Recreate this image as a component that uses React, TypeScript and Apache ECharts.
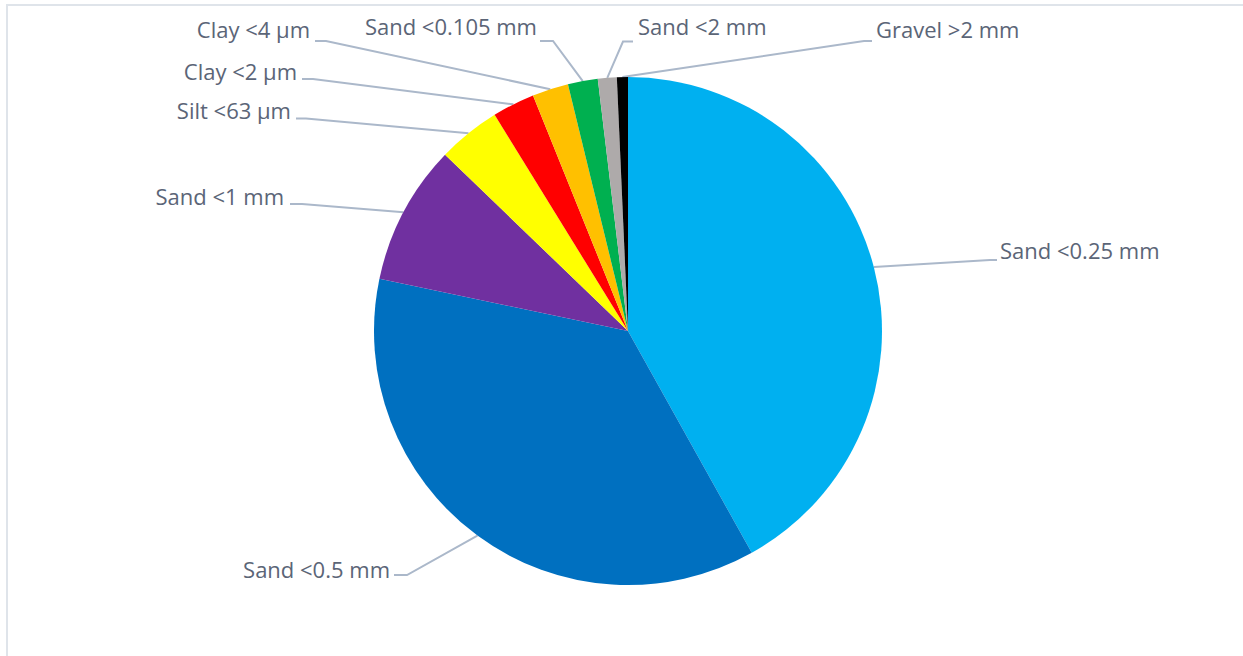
import React, { useEffect, useRef } from "react";
import * as echarts from "echarts";

const categories = [
  "Sand <0.25 mm",
  "Sand <0.5 mm",
  "Sand <1 mm",
  "Silt <63 µm",
  "Clay <2 µm",
  "Clay <4 µm",
  "Sand <0.105 mm",
  "Sand <2 mm",
  "Gravel >2 mm",
];
const values = [41.9, 36.4, 8.9, 4.0, 2.7, 2.3, 1.9, 1.2, 0.7];
const colors = [
  "#00B0F0",
  "#0070C0",
  "#7030A0",
  "#FFFF00",
  "#FF0000",
  "#FFC000",
  "#00B050",
  "#AEAAAA",
  "#000000",
];

// Label placement (layout only): text anchor, alignment, leader-line bend and end
const labelPos = [
  { x: 1000, y: 250, align: "left", bend: [990, 260], end: [997, 260] },
  { x: 390, y: 569, align: "right", bend: [407, 575], end: [394, 575] },
  { x: 284, y: 196, align: "right", bend: [302, 204], end: [290, 204] },
  { x: 291, y: 110, align: "right", bend: [306, 118.5], end: [296, 118.5] },
  { x: 297, y: 71, align: "right", bend: [313, 79], end: [302, 79] },
  { x: 310, y: 28.5, align: "right", bend: [326, 41], end: [315, 41] },
  { x: 537, y: 26, align: "right", bend: [553, 41], end: [540, 41] },
  { x: 638, y: 26, align: "left", bend: [623, 41.5], end: [633, 41.5] },
  { x: 876, y: 28.5, align: "left", bend: [864, 41], end: [872, 41] },
];

const PIE_CENTER = [628, 331];
const PIE_RADIUS = 254;

export default function App() {
  const ref = useRef<HTMLDivElement>(null);

  useEffect(() => {
    if (!ref.current) return;
    const chart = echarts.init(ref.current, null, { renderer: "svg" });
    const data = categories.map((name, i) => ({
      name,
      value: values[i],
      itemStyle: { color: colors[i] },
    }));
    chart.setOption({
      animation: false,
      backgroundColor: "#ffffff",
      graphic: [
        {
          type: "rect",
          silent: true,
          shape: { x: 7, y: 5, width: 1300, height: 700 },
          style: { fill: "none", stroke: "#DFE4EA", lineWidth: 2 },
        },
      ],
      series: [
        {
          type: "pie",
          center: PIE_CENTER,
          radius: PIE_RADIUS,
          startAngle: 90,
          clockwise: true,
          avoidLabelOverlap: false,
          emphasis: { disabled: true },
          itemStyle: { borderWidth: 0 },
          label: {
            show: true,
            position: "outside",
            formatter: "{b}",
            fontSize: 22,
            fontFamily: "Open Sans",
            color: "#5B6577",
          },
          labelLine: {
            show: true,
            length: 20,
            length2: 20,
            lineStyle: { color: "#ABB8CA", width: 2 },
          },
          labelLayout: (params: any) => {
            const p = labelPos[params.dataIndex];
            const start =
              params.labelLinePoints && params.labelLinePoints[0]
                ? params.labelLinePoints[0]
                : p.bend;
            return {
              x: p.x,
              y: p.y,
              align: p.align,
              verticalAlign: "middle",
              labelLinePoints: [start, p.bend, p.end],
            };
          },
          data,
        },
      ],
    });
    return () => chart.dispose();
  }, []);

  return (
    <div
      ref={ref}
      style={{ position: "absolute", left: 0, top: 0, width: 1243, height: 656 }}
    />
  );
}
